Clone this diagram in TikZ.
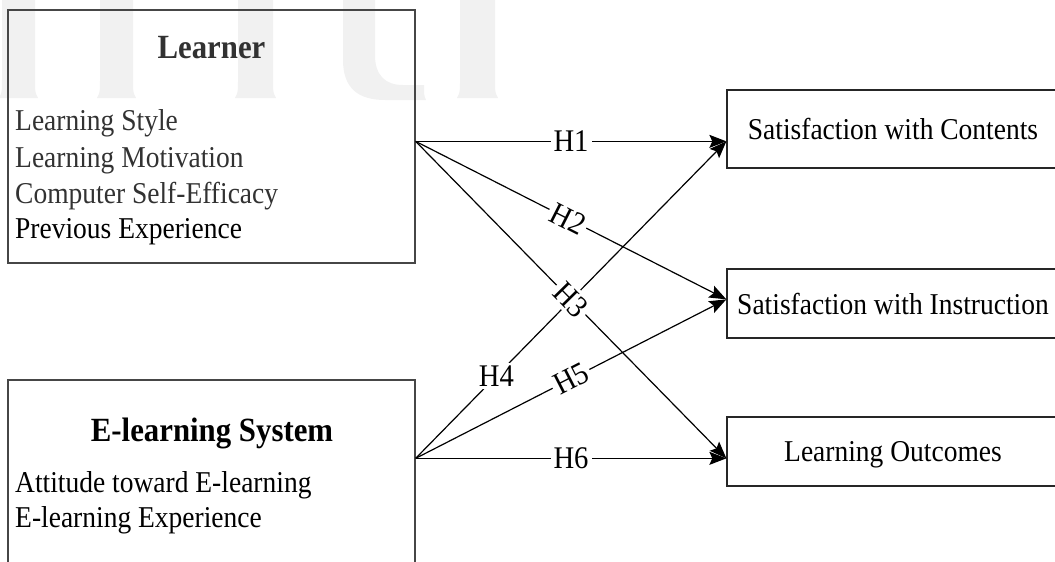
\documentclass[tikz,border=0pt]{standalone}
\usepackage{fontspec}
\setmainfont{Liberation Serif}[FakeStretch=0.909]
\usetikzlibrary{arrows.meta,calc}
\definecolor{wm}{RGB}{241,241,241}
\definecolor{boxline}{RGB}{70,70,70}
\definecolor{dtext}{RGB}{50,50,50}
\begin{document}
\begin{tikzpicture}[x=1pt,y=-1pt,
  box/.style={draw=boxline, line width=1.3pt, rectangle, inner sep=0pt},
  rbox/.style={box, draw=black!85, minimum width=332pt, font=\fontsize{30.25}{36}\selectfont, text depth=0pt},
  title/.style={font=\bfseries\fontsize{33.9}{40}\selectfont, anchor=base, inner sep=0pt},
  item/.style={font=\fontsize{30.25}{36}\selectfont, anchor=base west, inner sep=0pt},
  conn/.style={line width=1.2pt, -{Stealth[length=17pt,width=13pt,inset=3pt]}},
  hyp/.style={font=\fontsize{31.5}{36}\selectfont, fill=white, inner sep=3pt}
]
\useasboundingbox (0,0) rectangle (1055,562);
\clip (0,0) rectangle (1055,562);
% watermark
\foreach \a/\b in {2/35,100/133,238/273,460/495}
  \fill[wm] (\a,-2) -- (\a,80) .. controls (\a,92) .. (\a-3,98) -- (\b+3,98) .. controls (\b,92) .. (\b,80) -- (\b,-2) -- cycle;
\fill[wm] (343,-2) -- (343,60) .. controls (343,88) and (358,100) .. (385,100) -- (426,100) .. controls (424,95) .. (424,85) -- (403,85) .. controls (385,85) and (375,75) .. (375,55) -- (375,-2) -- cycle;
% boxes
\node[box, minimum width=407pt, minimum height=253pt] (learner) at (211.5,136.5) {};
\node[box, minimum width=407pt, minimum height=220pt] (elearn) at (211.5,490) {};
\node[rbox, minimum height=78pt] (c1) at (893,129) {Satisfaction with Contents};
\node[rbox, minimum height=69pt] (c2) at (893,303.5) {Satisfaction with Instruction};
\node[rbox, minimum height=69pt] (c3) at (893,451.5) {Learning Outcomes};
% texts
\node[title, text=dtext] (lt) at (211.5,58) {Learner};
\node[item, text=dtext] (l1) at (15,130) {Learning Style};
\node[item, text=dtext] (l2) at (15,167) {Learning Motivation};
\node[item, text=dtext] (l3) at (15,203) {Computer Self-Efficacy};
\node[item] (l4) at (15,238) {Previous Experience};
\node[title] (et) at (212,441) {E-learning System};
\node[item] (e1) at (15,492) {Attitude toward E-learning};
\node[item] (e2) at (15,527) {E-learning Experience};
% connectors
\coordinate (ls) at ($(learner.north east)+(0,132)$);
\coordinate (es) at ($(elearn.north east)+(0,79)$);
\coordinate (t1) at ($(c1.north west)+(0,52)$);
\coordinate (t2) at ($(c2.north west)+(0,31)$);
\coordinate (t3) at ($(c3.north west)+(0,42)$);
\draw[conn] (ls) -- (t1);
\draw[conn] (ls) -- (t2);
\draw[conn] (ls) -- (t3);
\draw[conn] (es) -- (t1);
\draw[conn] (es) -- (t2);
\draw[conn] (es) -- (t3);
\path (ls) -- (t1) node[hyp, pos=.5] {H1};
\path (ls) -- (t2) node[hyp, sloped, pos=.49] {H2};
\path (ls) -- (t3) node[hyp, sloped, pos=.5] {H3};
\path (es) -- (t1) node[hyp, pos=.26] {H4};
\path (es) -- (t2) node[hyp, sloped, pos=.5] {H5};
\path (es) -- (t3) node[hyp, pos=.5] {H6};
\end{tikzpicture}
\end{document}
